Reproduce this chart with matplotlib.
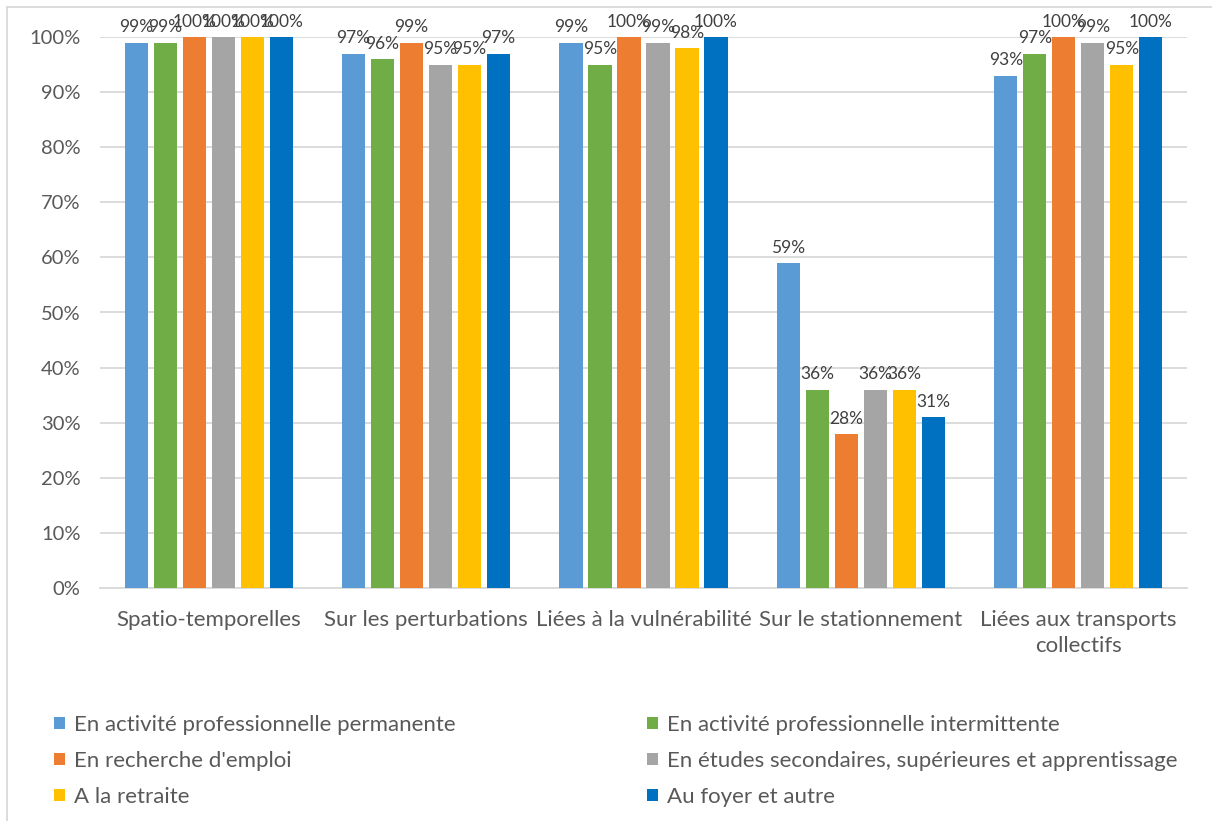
import numpy as np
import matplotlib.pyplot as plt
from matplotlib.patches import Rectangle

plt.rcParams['font.family'] = ['Lato', 'DejaVu Sans']

# Données
categories = ['Spatio-temporelles', 'Sur les perturbations', 'Liées à la vulnérabilité',
              'Sur le stationnement', 'Liées aux transports\ncollectifs']
series = ['En activité professionnelle permanente', 'En activité professionnelle intermittente',
          "En recherche d'emploi", 'En études secondaires, supérieures et apprentissage',
          'A la retraite', 'Au foyer et autre']
permanente = [99, 97, 99, 59, 93]
intermittente = [99, 96, 95, 36, 97]
recherche = [100, 99, 100, 28, 100]
etudes = [100, 95, 99, 36, 99]
retraite = [100, 95, 98, 36, 95]
foyer = [100, 97, 100, 31, 100]
values = [permanente, intermittente, recherche, etudes, retraite, foyer]
colors = ['#5B9BD5', '#70AD47', '#ED7D31', '#A5A5A5', '#FFC000', '#0070C0']

W, H = 1212, 821
fig = plt.figure(figsize=(W / 100, H / 100), dpi=100)
ax = fig.add_axes([100 / W, 1 - 588 / H, 1087 / W, 551 / H])

x = np.arange(len(categories))
pitch = 0.1334
width = 0.106
handles = []
for i, (name, vals, c) in enumerate(zip(series, values, colors)):
    pos = x + (i - 2.5) * pitch
    b = ax.bar(pos, vals, width=width, color=c, label=name, zorder=3)
    handles.append(b)
    for p, v in zip(pos, vals):
        ax.text(p, v + 1.3, f"{v}%", ha='center', va='bottom', fontsize=12.5,
                color='#404040', zorder=4)

ax.set_xlim(-0.5, len(categories) - 0.5)
ax.set_ylim(0, 100)
ax.set_yticks(range(0, 101, 10))
ax.set_yticklabels([f"{t}%" for t in range(0, 101, 10)], fontsize=14.5)
ax.set_xticks(x)
ax.set_xticklabels(categories, fontsize=16, linespacing=1.35)
ax.tick_params(axis='both', length=0, labelcolor='#595959')
ax.tick_params(axis='x', pad=16)
ax.tick_params(axis='y', pad=14)
ax.grid(axis='y', color='#d9d9d9', linewidth=1.3, zorder=0)
for s in ['top', 'right', 'left']:
    ax.spines[s].set_visible(False)
ax.spines['bottom'].set_color('#d9d9d9')
ax.spines['bottom'].set_linewidth(1.3)
ax.set_axisbelow(True)

# Légende : remplissage par colonnes
order = [0, 2, 4, 1, 3, 5]
leg = fig.legend([handles[k] for k in order], [series[k] for k in order], ncol=2,
                 loc='upper left', bbox_to_anchor=(45 / W, 1 - 706 / H),
                 frameon=False, fontsize=16, labelcolor='#595959',
                 handlelength=0.5, handleheight=0.5, handletextpad=0.4,
                 columnspacing=8.6, labelspacing=0.72, borderaxespad=0)

# Cadre du graphique
fig.patches.append(Rectangle((7 / W, -0.1), 1.2, 1.1 - 7 / H, transform=fig.transFigure,
                             fill=False, edgecolor='#d9d9d9', linewidth=1.3))

fig.savefig('out.png', dpi=100)
